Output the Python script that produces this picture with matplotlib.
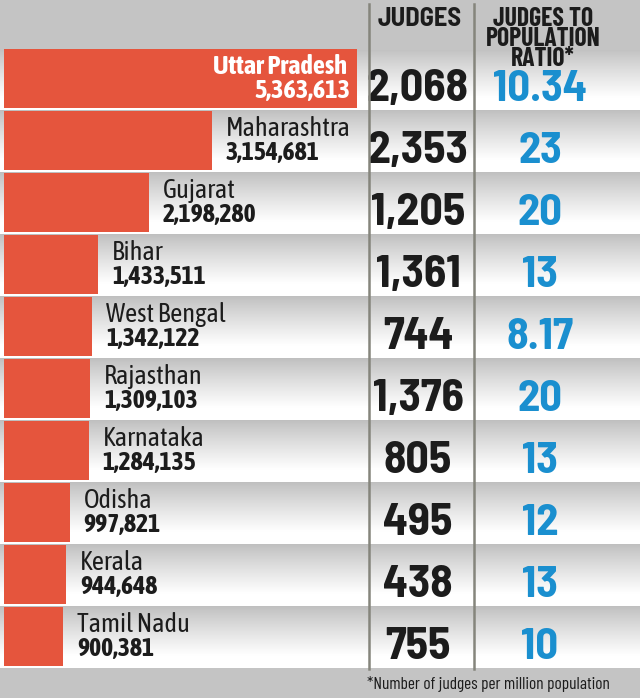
import numpy as np
import matplotlib
matplotlib.use('Agg')
import matplotlib.pyplot as plt

states = ['Uttar Pradesh', 'Maharashtra', 'Gujarat', 'Bihar', 'West Bengal',
          'Rajasthan', 'Karnataka', 'Odisha', 'Kerala', 'Tamil Nadu']
cases = [5363613, 3154681, 2198280, 1433511, 1342122,
         1309103, 1284135, 997821, 944648, 900381]
judges = ['2,068', '2,353', '1,205', '1,361', '744',
          '1,376', '805', '495', '438', '755']
ratio = ['10.34', '23', '20', '13', '8.17', '20', '13', '12', '13', '10']

W, H = 640, 698
LABEL = ['Asap Condensed', 'Liberation Sans Narrow', 'DejaVu Sans']
NUM = ['Barlow Semi Condensed', 'Liberation Sans Narrow', 'DejaVu Sans']
HEAD = ['Barlow Condensed', 'Liberation Sans Narrow', 'DejaVu Sans']
RED = '#e5553d'
BLUE = '#1a8fcf'
INK = '#1c1c1c'
BG = '#c4c4c4'

fig = plt.figure(figsize=(W / 100, H / 100), dpi=100)
fig.patch.set_facecolor(BG)
ax = fig.add_axes([0, 0, 1, 1])
ax.set_xlim(0, W)
ax.set_ylim(H, 0)
ax.axis('off')

top0, step, bar_h = 48.5, 62.0, 59.5
x0, bar_max = 4, 353
scale = bar_max / max(cases)

# grey-to-white gradient for each row band
f = np.linspace(0, 1, 64)
shade = np.clip(f / 0.8, 0, 1) ** 0.9
grey = np.array([0.75, 0.75, 0.75])
grad = grey[None, :] + (1 - grey)[None, :] * shade[:, None]
grad = np.repeat(grad[:, None, :], 2, axis=1)

for i, st in enumerate(states):
    top = top0 + step * i
    ax.imshow(grad, extent=(0, W, top + step, top), aspect='auto',
              interpolation='bilinear', zorder=1)
    ax.barh(top + bar_h / 2, cases[i] * scale, left=x0, height=bar_h,
            color=RED, zorder=2)
    end = x0 + cases[i] * scale
    if i == 0:
        ax.text(end - 10, top + 18, st, color='white', fontsize=19,
                fontweight='bold', family=LABEL, ha='right', va='center', zorder=3)
        ax.text(end - 7, top + 42, f'{cases[i]:,}', color='white', fontsize=19,
                fontweight='bold', family=LABEL, ha='right', va='center', zorder=3)
    else:
        ax.text(end + 14, top + 18, st, color=INK, fontsize=19,
                family=LABEL, ha='left', va='center', zorder=3)
        ax.text(end + 14, top + 42, f'{cases[i]:,}', color=INK, fontsize=18.5,
                fontweight='bold', family=LABEL, ha='left', va='center', zorder=3)
    ax.text(418, top + 41, judges[i], color=INK, fontsize=33,
            fontweight='bold', family=NUM, ha='center', va='center', zorder=3)
    ax.text(540, top + 41, ratio[i], color=BLUE, fontsize=32,
            fontweight='bold', family=NUM, ha='center', va='center', zorder=3)

bottom = top0 + step * len(states)
ax.axhspan(bottom, H, color=BG, zorder=1.5)
ax.axhspan(0, top0, color=BG, zorder=1.5)

for xv in (369, 474):
    ax.plot([xv, xv], [4, bottom], color='#85857c', lw=1.8, zorder=4)

ax.text(420, 19, 'JUDGES', fontsize=19, fontweight='bold', family=NUM,
        color=INK, ha='center', va='center', zorder=3)
ax.text(543, 39, 'JUDGES TO\nPOPULATION\nRATIO*', fontsize=18.5, fontweight='bold',
        family=HEAD, color=INK, ha='center', va='center',
        linespacing=0.8, zorder=3)
ax.text(610, 684, '*Number of judges per million population', fontsize=12.5,
        family=HEAD, color=INK, ha='right', va='center', zorder=3)

fig.savefig('out.png', dpi=100, facecolor=BG)
